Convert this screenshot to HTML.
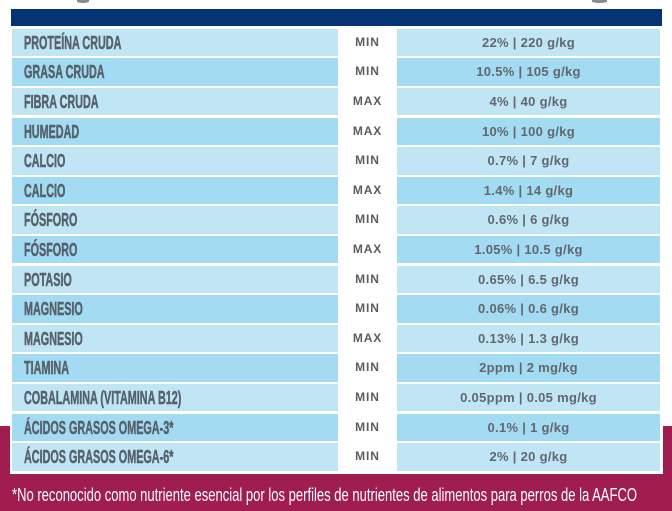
<!DOCTYPE html>
<html>
<head>
<meta charset="utf-8">
<style>
  html, body { margin:0; padding:0; }
  body { width:672px; height:511px; position:relative; overflow:hidden; background:#ffffff; font-family:"Liberation Sans", sans-serif; }
  .abs { position:absolute; }
  #maroon { left:0; top:426px; width:672px; height:85px; background:#a01e4f; }
  #whitebox { left:10px; top:380px; width:653px; height:94px; background:#ffffff; }
  #header { left:11px; top:9px; width:651px; height:17px; background:#053475; }
  .row { position:absolute; left:12px; width:648px; height:27.6px; }
  .name { position:absolute; left:0; top:0; width:326px; height:100%; }
  .mid { position:absolute; left:326px; top:0; width:59px; height:100%; background:#ffffff; text-align:center;
         font-size:12px; font-weight:bold; letter-spacing:0.9px; color:#5b5d60; line-height:27.6px; }
  .val { position:absolute; left:385px; top:0; width:263px; height:100%; text-align:center;
         font-size:13px; font-weight:bold; letter-spacing:0.3px; color:#62676e; line-height:27.6px; }
  .lt .name, .lt .val { background:#c0e6f5; }
  .dk .name, .dk .val { background:#a3dbf2; }
  .name span { position:absolute; left:12px; top:1px; white-space:nowrap; font-size:18px; font-weight:bold;
               color:#56616b; line-height:27.6px; transform:scaleX(0.6); transform-origin:0 50%;
               -webkit-text-stroke:0.5px #56616b; }
  #foot { left:12px; top:485.5px; white-space:nowrap; font-size:18px; line-height:18px; color:#ffffff;
          transform:scaleX(0.68); transform-origin:0 0; }
  .blob { position:absolute; background:#8a8a8a; border-radius:0 0 50% 50%; }
</style>
</head>
<body>
<div class="blob" style="left:77px;top:0;width:12px;height:3px;"></div>
<div class="blob" style="left:592px;top:0;width:15px;height:3px;"></div>

<div id="maroon" class="abs"></div>
<div id="whitebox" class="abs"></div>
<div id="header" class="abs"></div>

<div class="row lt" style="top:28.7px"><div class="name"><span>PROTEÍNA CRUDA</span></div><div class="mid">MIN</div><div class="val">22% | 220 g/kg</div></div>
<div class="row dk" style="top:58.3px"><div class="name"><span>GRASA CRUDA</span></div><div class="mid">MIN</div><div class="val">10.5% | 105 g/kg</div></div>
<div class="row lt" style="top:87.9px"><div class="name"><span>FIBRA CRUDA</span></div><div class="mid">MAX</div><div class="val">4% | 40 g/kg</div></div>
<div class="row dk" style="top:117.5px"><div class="name"><span>HUMEDAD</span></div><div class="mid">MAX</div><div class="val">10% | 100 g/kg</div></div>
<div class="row lt" style="top:147.1px"><div class="name"><span>CALCIO</span></div><div class="mid">MIN</div><div class="val">0.7% | 7 g/kg</div></div>
<div class="row dk" style="top:176.7px"><div class="name"><span>CALCIO</span></div><div class="mid">MAX</div><div class="val">1.4% | 14 g/kg</div></div>
<div class="row lt" style="top:206.3px"><div class="name"><span>FÓSFORO</span></div><div class="mid">MIN</div><div class="val">0.6% | 6 g/kg</div></div>
<div class="row dk" style="top:235.9px"><div class="name"><span>FÓSFORO</span></div><div class="mid">MAX</div><div class="val">1.05% | 10.5 g/kg</div></div>
<div class="row lt" style="top:265.5px"><div class="name"><span>POTASIO</span></div><div class="mid">MIN</div><div class="val">0.65% | 6.5 g/kg</div></div>
<div class="row dk" style="top:295.1px"><div class="name"><span>MAGNESIO</span></div><div class="mid">MIN</div><div class="val">0.06% | 0.6 g/kg</div></div>
<div class="row lt" style="top:324.7px"><div class="name"><span>MAGNESIO</span></div><div class="mid">MAX</div><div class="val">0.13% | 1.3 g/kg</div></div>
<div class="row dk" style="top:354.3px"><div class="name"><span>TIAMINA</span></div><div class="mid">MIN</div><div class="val">2ppm | 2 mg/kg</div></div>
<div class="row lt" style="top:383.9px"><div class="name"><span>COBALAMINA (VITAMINA B12)</span></div><div class="mid">MIN</div><div class="val">0.05ppm | 0.05 mg/kg</div></div>
<div class="row dk" style="top:413.5px"><div class="name"><span>ÁCIDOS GRASOS OMEGA-3*</span></div><div class="mid">MIN</div><div class="val">0.1% | 1 g/kg</div></div>
<div class="row lt" style="top:443.1px"><div class="name"><span>ÁCIDOS GRASOS OMEGA-6*</span></div><div class="mid">MIN</div><div class="val">2% | 20 g/kg</div></div>

<div id="foot" class="abs">*No reconocido como nutriente esencial por los perfiles de nutrientes de alimentos para perros de la AAFCO</div>

<script>
(function(){
  var f = document.getElementById('foot');
  f.style.transform = 'none';
  var w = f.getBoundingClientRect().width;
  if (w > 0) { f.style.transform = 'scaleX(' + (625 / w) + ')'; }
  else { f.style.transform = 'scaleX(0.68)'; }
})();
</script>
</body>
</html>
